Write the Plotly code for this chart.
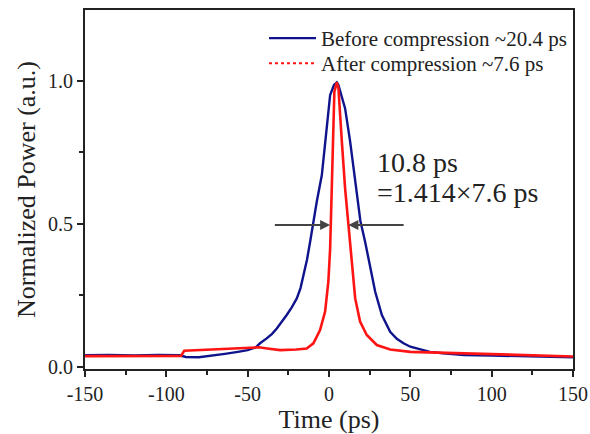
import plotly.graph_objects as go

# Before compression (blue)
t_before = [-150, -135, -120, -105, -92, -88, -80, -72, -64, -56, -50, -45, -42.4, -38.3, -35, -32.1,
            -29, -26, -23, -19.8, -17.5, -15.7, -13.5, -11.6, -9.6, -7.5, -4.4, -1.4, 0.7, 3, 4.8,
            5.8, 7.8, 9.9, 13, 16.1, 19.3, 22.2, 25.3, 28.4, 32.5, 37.6, 41.7, 45.8, 50, 56, 62, 70,
            83, 100, 124, 150]
p_before = [0.040, 0.041, 0.039, 0.041, 0.040, 0.034, 0.033, 0.038, 0.045, 0.052, 0.058, 0.068, 0.082,
            0.099, 0.115, 0.134, 0.157, 0.181, 0.207, 0.239, 0.275, 0.321, 0.375, 0.4375, 0.508, 0.578,
            0.671, 0.846, 0.951, 0.985, 0.995, 0.986, 0.950, 0.904, 0.788, 0.648, 0.510, 0.4375, 0.344,
            0.2625, 0.181, 0.1225, 0.098, 0.082, 0.070, 0.060, 0.052, 0.047, 0.041, 0.039, 0.035, 0.033]

# After compression (red)
t_after = [-150, -120, -100, -91, -89, -80, -70, -60, -50, -43, -38, -30, -20, -13.7, -9.6, -5.5, -2.4,
           -0.4, 0.7, 1.1, 2.3, 3.3, 4.8, 5.8, 7.9, 9.9, 11.9, 14, 16.1, 19.1, 23.2, 29.4, 37.6, 50,
           62, 80, 100, 125, 150]
p_after = [0.037, 0.037, 0.038, 0.038, 0.056, 0.058, 0.060, 0.063, 0.066, 0.068, 0.064, 0.058, 0.060,
           0.064, 0.082, 0.128, 0.193, 0.298, 0.414, 0.500, 0.788, 0.963, 0.995, 0.975, 0.788, 0.624,
           0.500, 0.356, 0.239, 0.158, 0.111, 0.076, 0.060, 0.052, 0.050, 0.048, 0.045, 0.040, 0.036]

x_ticks = [-150, -100, -50, 0, 50, 100, 150]
x_minor = [-125, -75, -25, 25, 75, 125]
y_ticks = [0.0, 0.5, 1.0]
y_minor = [0.25, 0.75]
y_tick_labels = ["0.0", "0.5", "1.0"]

# FWHM marker arrows (tail x, tip x) at half maximum
half_level = 0.496
left_arrow = (-34.2, 0.7)
right_arrow = (46.8, 11.9)

BLUE = "#10148c"
RED = "#ff1414"
FONT = "Liberation Serif, Times New Roman, serif"
TXT = "#222222"

# plot area in pixels
L, R, T, B = 85, 573, 10, 369
W, H = 590, 434
PW, PH = R - L, B - T


def px_x(p):
    return (p - L) / PW


def px_y(p):
    return 1 - (p - T) / PH


fig = go.Figure()
fig.add_trace(go.Scatter(x=t_before, y=p_before, mode="lines", name="Before compression ~20.4 ps",
                         line=dict(color=BLUE, width=2.4), legend="legend"))
fig.add_trace(go.Scatter(x=t_after, y=p_after, mode="lines", showlegend=False,
                         line=dict(color=RED, width=2.6)))
fig.add_trace(go.Scatter(x=[None], y=[None], mode="lines", name="After compression ~7.6 ps",
                         line=dict(color=RED, width=2, dash="dot"), legend="legend2"))

for tail, tip in (left_arrow, right_arrow):
    fig.add_annotation(x=tip, y=half_level, ax=tail, ay=half_level, xref="x", yref="y",
                       axref="x", ayref="y", showarrow=True, arrowhead=2, arrowsize=1,
                       arrowwidth=2, arrowcolor="#444444", text="")

for text, cy in (("10.8 ps", 162), ("=1.414×7.6 ps", 192)):
    fig.add_annotation(x=px_x(375), y=px_y(cy), xref="paper", yref="paper", text=text,
                       showarrow=False, xanchor="left", yanchor="middle",
                       font=dict(size=28, color=TXT, family=FONT))

axis_common = dict(showline=True, linecolor=TXT, linewidth=2, mirror=True, ticks="outside",
                   ticklen=6, tickwidth=1.5, tickcolor=TXT, showgrid=False, zeroline=False,
                   automargin=False, tickfont=dict(size=20, family=FONT, color=TXT))

fig.update_xaxes(range=[-150, 150], tickvals=x_ticks, ticktext=[str(v) for v in x_ticks],
                 minor=dict(tickvals=x_minor, ticks="outside", ticklen=4, tickwidth=1.5, tickcolor=TXT),
                 title=dict(text="Time (ps)", font=dict(size=26, family=FONT, color=TXT), standoff=0),
                 **axis_common)
fig.update_yaxes(range=[-0.008, 1.2485], tickvals=y_ticks, ticktext=y_tick_labels,
                 minor=dict(tickvals=y_minor, ticks="outside", ticklen=4, tickwidth=1.5, tickcolor=TXT),
                 title=dict(text="Normalized Power (a.u.)", font=dict(size=26, family=FONT, color=TXT),
                            standoff=5),
                 **axis_common)

leg_common = dict(xanchor="left", yanchor="top", bgcolor="rgba(0,0,0,0)", borderwidth=0,
                  font=dict(size=21, family=FONT, color=TXT), itemwidth=47)
fig.update_layout(width=W, height=H, margin=dict(l=L, r=W - R, t=T, b=H - B),
                  plot_bgcolor="white", paper_bgcolor="white",
                  legend=dict(x=px_x(264), y=px_y(18), **leg_common),
                  legend2=dict(x=px_x(264), y=px_y(43), **leg_common),
                  font=dict(family=FONT))

fig.write_html("out.html", config={"displayModeBar": False},
               post_script="document.body.style.margin='0';document.body.style.padding='0';")
